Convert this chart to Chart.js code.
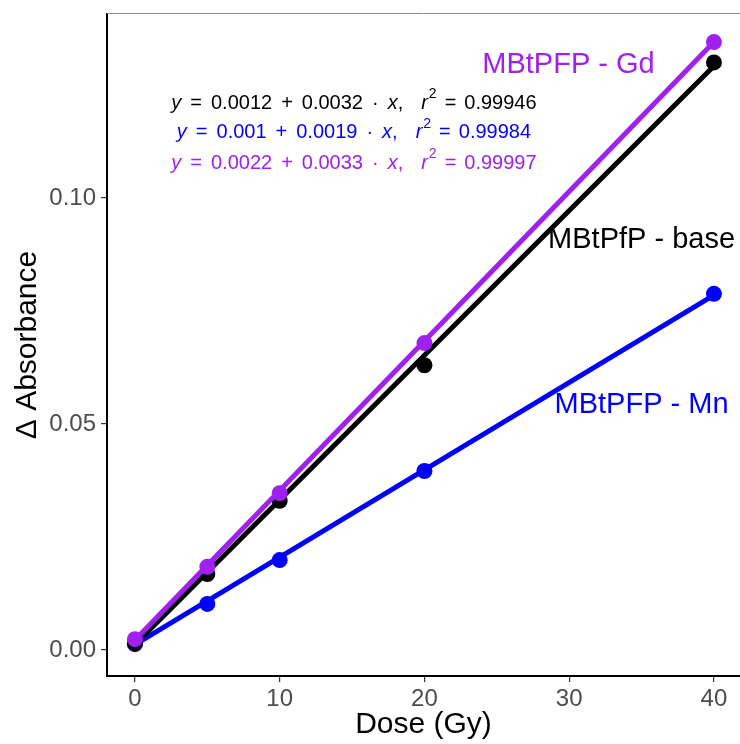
<!DOCTYPE html>
<html>
<head>
<meta charset="utf-8">
<script src="https://cdn.jsdelivr.net/npm/chart.js@4.4.1/dist/chart.umd.min.js"></script>
<style>
  html, body { margin: 0; padding: 0; background: #fff; overflow: hidden; }
  #wrap { width: 748px; height: 744px; position: relative; }
</style>
</head>
<body>
<div id="wrap"><canvas id="grafico"></canvas></div>
<script>
// dose values (Gy)
const dosis = [0, 5, 10, 20, 40];

// measured delta absorbance per sample
const baseVals = [0.0015, 0.0168, 0.0330, 0.0630, 0.1300];
const mnVals   = [0.0013, 0.0102, 0.0199, 0.0396, 0.0788];
const gdVals   = [0.0024, 0.0184, 0.0347, 0.0679, 0.1345];

// fitted line ends at dose 0 and 40
const fitDosis = [0, 40];
const baseFit = [0.0012, 0.1292];
const mnFit   = [0.0012, 0.0785];
const gdFit   = [0.0022, 0.1345];

const xTicks = [0, 10, 20, 30, 40];
const yTicks = [0.00, 0.05, 0.10];

const NEGRO = '#000000';
const AZUL = '#0000ff';
const MORADO = '#a020f0';
const FUENTE = '"Liberation Sans", Arial, sans-serif';

function pts(xs, ys) {
  return xs.map((x, i) => ({ x: x, y: ys[i] }));
}

function puntos(ys, color, order) {
  return {
    data: pts(dosis, ys),
    showLine: false,
    pointRadius: 8,
    pointBackgroundColor: color,
    pointBorderColor: color,
    pointBorderWidth: 0,
    order: order
  };
}

function recta(ys, color, order) {
  return {
    data: pts(fitDosis, ys),
    showLine: true,
    borderColor: color,
    borderWidth: 5,
    pointRadius: 0,
    tension: 0,
    order: order
  };
}

// text labels + equations drawn on top
const textos = {
  id: 'textos',
  afterDatasetsDraw(chart) {
    const ctx = chart.ctx;
    const xs = chart.scales.x, ys = chart.scales.y;
    ctx.save();
    ctx.textBaseline = 'middle';
    ctx.textAlign = 'center';
    ctx.font = '29px ' + FUENTE;
    ctx.fillStyle = MORADO;
    ctx.fillText('MBtPFP - Gd', xs.getPixelForValue(29.95), ys.getPixelForValue(0.1294));
    ctx.fillStyle = NEGRO;
    ctx.fillText('MBtPfP - base', xs.getPixelForValue(35), ys.getPixelForValue(0.0907));
    ctx.fillStyle = AZUL;
    ctx.fillText('MBtPFP - Mn', xs.getPixelForValue(35), ys.getPixelForValue(0.0542));

    const ecuaciones = [
      { c: NEGRO, a: '0.0012', b: '0.0032', r: '0.99946', y: 0.1210 },
      { c: AZUL, a: '0.001', b: '0.0019', r: '0.99984', y: 0.1144 },
      { c: MORADO, a: '0.0022', b: '0.0033', r: '0.99997', y: 0.1077 }
    ];
    const reg = '20px ' + FUENTE;
    const ita = 'italic 20px ' + FUENTE;
    const sup = '14px ' + FUENTE;
    ctx.textAlign = 'left';
    ecuaciones.forEach(e => {
      // [font, text, raise, gap after]
      const partes = [
        [ita, 'y', 0, 9], [reg, '=', 0, 9], [reg, e.a, 0, 9], [reg, '+', 0, 9],
        [reg, e.b, 0, 9], [reg, '\u00b7', 0, 9], [ita, 'x', 0, 0], [reg, ',', 0, 18],
        [ita, 'r', 0, 1], [sup, '2', -9, 8], [reg, '=', 0, 8], [reg, e.r, 0, 0]
      ];
      let w = 0;
      partes.forEach(p => { ctx.font = p[0]; w += ctx.measureText(p[1]).width + p[3]; });
      let px = xs.getPixelForValue(15.13) - w / 2;
      const py = ys.getPixelForValue(e.y);
      ctx.fillStyle = e.c;
      partes.forEach(p => {
        ctx.font = p[0];
        ctx.fillText(p[1], px, py + p[2]);
        px += ctx.measureText(p[1]).width + p[3];
      });
    });

    // thin top border
    ctx.strokeStyle = '#8a8a8a';
    ctx.lineWidth = 1;
    ctx.beginPath();
    ctx.moveTo(chart.chartArea.left, chart.chartArea.top - 0.5);
    ctx.lineTo(chart.chartArea.right, chart.chartArea.top - 0.5);
    ctx.stroke();
    ctx.restore();
  }
};

const ctxGraf = document.getElementById('grafico').getContext('2d');
const grafico = new Chart(ctxGraf, {
  type: 'scatter',
  data: {
    datasets: [
      puntos(gdVals, MORADO, 1),
      recta(gdFit, MORADO, 2),
      puntos(baseVals, NEGRO, 3),
      recta(baseFit, NEGRO, 4),
      puntos(mnVals, AZUL, 5),
      recta(mnFit, AZUL, 6)
    ]
  },
  options: {
    responsive: true,
    maintainAspectRatio: false,
    animation: false,
    layout: { padding: { top: 14, right: 0, left: 0, bottom: 0 } },
    plugins: {
      legend: { display: false },
      tooltip: { enabled: false }
    },
    scales: {
      x: {
        type: 'linear',
        min: -1.93,
        max: 41.8,
        afterBuildTicks: s => { s.ticks = xTicks.map(v => ({ value: v })); },
        afterFit: s => { s.height = 68; s.paddingLeft = 0; s.paddingRight = 0; },
        grid: { drawOnChartArea: false, drawTicks: true, tickLength: 6, color: '#333333', lineWidth: 1.2 },
        border: { color: '#000000', width: 2 },
        ticks: {
          color: '#4d4d4d',
          padding: 3,
          maxRotation: 0,
          font: { family: FUENTE, size: 24 }
        },
        title: {
          display: true,
          text: 'Dose (Gy)',
          color: '#000000',
          padding: { top: 0, bottom: 1 },
          font: { family: FUENTE, size: 30 }
        }
      },
      y: {
        type: 'linear',
        min: -0.00575,
        max: 0.14071,
        afterBuildTicks: s => { s.ticks = yTicks.map(v => ({ value: v })); },
        afterFit: s => { s.width = 107; s.paddingTop = 0; s.paddingBottom = 0; },
        grid: { drawOnChartArea: false, drawTicks: true, tickLength: 6, color: '#333333', lineWidth: 1.2 },
        border: { color: '#000000', width: 2 },
        ticks: {
          color: '#4d4d4d',
          padding: 5,
          callback: v => v.toFixed(2),
          font: { family: FUENTE, size: 24 }
        },
        title: {
          display: true,
          text: '\u0394 Absorbance',
          color: '#000000',
          padding: { top: 10, bottom: 0 },
          font: { family: FUENTE, size: 30 }
        }
      }
    }
  },
  plugins: [textos]
});
</script>
</body>
</html>
